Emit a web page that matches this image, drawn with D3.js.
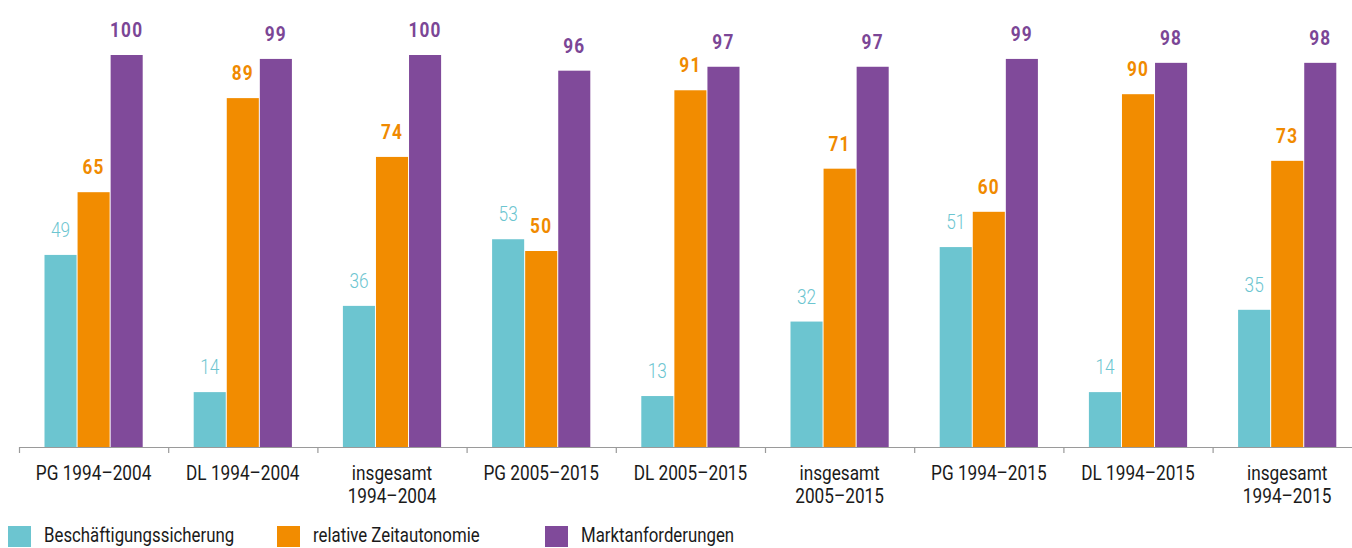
<html>
<head>
    <meta charset="utf-8">
    <title>Bar chart</title>
    <style>
        body {
            padding: 0;
            margin: 0;
            background: white;
            font-family: Roboto, "DejaVu Sans Condensed", sans-serif;
        }
        .axis line {
            stroke: #9a9a9a;
            stroke-width: 1.2;
        }
        .xlabel {
            font-size: 21px;
            fill: #1a1a1a;
        }
        .legend text {
            font-size: 20.5px;
            fill: #1a1a1a;
        }
    </style>
</head>
<body>
    <div id="chart"></div>

    <script src="https://d3js.org/d3.v7.min.js"></script>
    <script>
        // data
        var categories = [
            ["PG 1994\u20132004"],
            ["DL 1994\u20132004"],
            ["insgesamt", "1994\u20132004"],
            ["PG 2005\u20132015"],
            ["DL 2005\u20132015"],
            ["insgesamt", "2005\u20132015"],
            ["PG 1994\u20132015"],
            ["DL 1994\u20132015"],
            ["insgesamt", "1994\u20132015"]
        ];
        var seriesNames = ["Beschäftigungssicherung", "relative Zeitautonomie", "Marktanforderungen"];
        var beschaeftigung = [49, 14, 36, 53, 13, 32, 51, 14, 35];
        var zeitautonomie = [65, 89, 74, 50, 91, 71, 60, 90, 73];
        var markt = [100, 99, 100, 96, 97, 97, 99, 98, 98];
        var colors = ["#6cc5d0", "#f28c00", "#804a9a"];
        var labelColors = ["#6cc5d0", "#f08a00", "#7b4696"];

        var series = [beschaeftigung, zeitautonomie, markt];

        var width = 1352, height = 548;
        var baseline = 447;
        var squeeze = 0.82; // condensed look for the text

        function place(x, y) {
            return "translate(" + x + "," + y + ") scale(" + squeeze + ",1)";
        }

        var svg = d3.select("#chart")
            .append("svg")
            .attr("width", width)
            .attr("height", height);

        var x = d3.scaleBand()
            .domain(d3.range(categories.length))
            .range([19, 19 + 149.2 * categories.length])
            .paddingInner(0)
            .paddingOuter(0);

        var inner = d3.scaleBand()
            .domain(d3.range(series.length))
            .range([25, x.bandwidth() - 25]);

        var y = d3.scaleLinear()
            .domain([0, 100])
            .range([baseline, 55]);

        // bars
        series.forEach(function (vals, s) {
            var g = svg.append("g");
            g.selectAll("rect")
                .data(vals)
                .enter()
                .append("rect")
                .attr("x", function (d, i) { return x(i) + inner(s) + 0.5; })
                .attr("width", inner.bandwidth() - 1)
                .attr("y", function (d) { return y(d); })
                .attr("height", function (d) { return baseline - y(d); })
                .attr("fill", colors[s]);

            g.selectAll("text")
                .data(vals)
                .enter()
                .append("text")
                .attr("transform", function (d, i) {
                    return place(x(i) + inner(s) + inner.bandwidth() / 2, y(d) - 18);
                })
                .attr("text-anchor", "middle")
                .attr("fill", labelColors[s])
                .style("font-size", "21px")
                .style("font-weight", s == 0 ? "300" : "bold")
                .style("letter-spacing", s == 0 ? "0px" : "1.5px")
                .text(function (d) { return d; });
        });

        // axis
        var axis = svg.append("g")
            .attr("class", "axis")
            .attr("transform", "translate(0," + baseline + ")");
        axis.append("line")
            .attr("x1", 19).attr("x2", width)
            .attr("y1", 0.5).attr("y2", 0.5);
        axis.selectAll(".tick")
            .data(d3.range(categories.length))
            .enter()
            .append("line")
            .attr("x1", function (d) { return x(d) + 0.5; })
            .attr("x2", function (d) { return x(d) + 0.5; })
            .attr("y1", 0).attr("y2", 6);

        var labels = svg.append("g")
            .selectAll("text")
            .data(categories)
            .enter()
            .append("text")
            .attr("class", "xlabel")
            .attr("text-anchor", "middle")
            .attr("transform", function (d, i) { return place(x(i) + x.bandwidth() / 2, 480); });
        labels.selectAll("tspan")
            .data(function (d) { return d; })
            .enter()
            .append("tspan")
            .attr("x", 0)
            .attr("dy", function (d, i) { return i == 0 ? 0 : 23; })
            .text(function (d) { return d; });

        // legend
        var legendX = [8, 277, 545];
        var legend = svg.append("g").attr("class", "legend");
        seriesNames.forEach(function (name, i) {
            legend.append("rect")
                .attr("x", legendX[i]).attr("y", 526)
                .attr("width", 23).attr("height", 21)
                .attr("fill", colors[i]);
            legend.append("text")
                .attr("transform", place(legendX[i] + 36, 542))
                .text(name);
        });
    </script>
</body>
</html>
